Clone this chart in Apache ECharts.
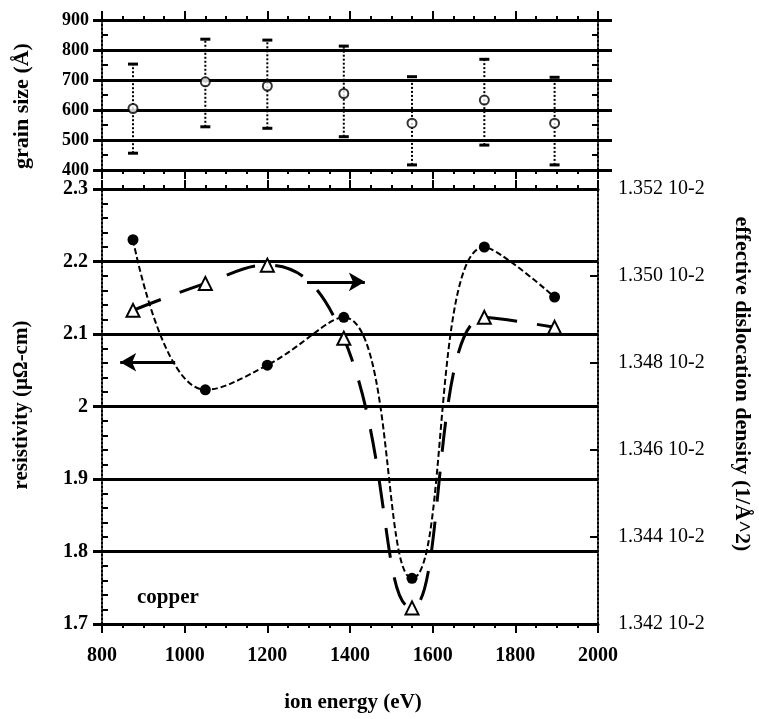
<!DOCTYPE html>
<html>
<head>
<meta charset="utf-8">
<script src="https://cdn.jsdelivr.net/npm/echarts@6/dist/echarts.min.js"></script>
<style>
html,body{margin:0;padding:0;background:#fff;}
#chart{width:759px;height:719px;}
</style>
</head>
<body>
<div id="chart"></div>
<script>
// ---- data ----
const energy = [875, 1050, 1200, 1385, 1550, 1725, 1895];           // ion energy (eV)
const grainSize = [605, 694, 680, 655, 556, 633, 556];              // grain size centre (Å)
const grainHigh = [753, 836, 833, 813, 711, 769, 709];              // upper error bar
const grainLow = [456, 544, 539, 511, 417, 483, 417];               // lower error bar
const resistivity = [2.23, 2.023, 2.057, 2.123, 1.763, 2.22, 2.151]; // µΩ-cm
const dislocation = [1.34921, 1.34983, 1.35025, 1.34857, 1.34237, 1.34905, 1.34882]; // 10^-2 1/Å^2
const grainTicks = [400, 900, 100];
const resTicks = [1.7, 2.3, 0.1];
const disTicks = [1.342, 1.352, 0.002];
const energyTicks = [800, 2000, 200];
const leftArrow = [[977, 2.061], [844, 2.061]];
const rightArrow = [[1296, 2.172], [1436, 2.172]];

const FONT = "'Liberation Serif', 'DejaVu Serif', serif";
const chart = echarts.init(document.getElementById('chart'), null, {renderer: 'canvas'});

function xAx(grid, pos, labels) {
  return {
    type: 'value', gridIndex: grid, position: pos,
    min: energyTicks[0], max: energyTicks[1], interval: energyTicks[2],
    axisLine: {show: true, lineStyle: {color: '#000', width: 3}},
    axisTick: {show: true, inside: false, length: 9, lineStyle: {color: '#000', width: 2}},
    minorTick: {show: true, splitNumber: 4, length: 4, lineStyle: {color: '#000', width: 2}},
    axisLabel: {show: labels, color: '#000', fontFamily: FONT, fontWeight: 'bold', fontSize: 20, margin: 22,
      formatter: v => String(v)},
    splitLine: {show: false}
  };
}

const dottedAxis = {show: true, lineStyle: {color: '#000', width: 2, type: 'dotted'}};

// extra tick-only axes that make the grid lines stick out past the axis lines
function stubAxis(grid, pos, ticks, len) {
  return {
    type: 'value', gridIndex: grid, position: pos, offset: 0,
    min: ticks[0], max: ticks[1], interval: ticks[2],
    axisLine: {show: false},
    axisTick: {show: true, inside: false, length: len, lineStyle: {color: '#000', width: 3}},
    axisLabel: {show: false},
    splitLine: {show: false}
  };
}

const option = {
  backgroundColor: '#fff',
  animation: false,
  grid: [
    {left: 102, right: 161, top: 20, height: 150},
    {left: 102, right: 161, top: 189, height: 435}
  ],
  xAxis: [
    xAx(0, 'bottom', false),
    xAx(0, 'top', false),
    xAx(1, 'bottom', true),
    xAx(1, 'top', false)
  ],
  yAxis: [
    {
      type: 'value', gridIndex: 0, position: 'left',
      min: grainTicks[0], max: grainTicks[1], interval: grainTicks[2],
      axisLine: dottedAxis,
      axisTick: {show: true, inside: true, length: 6, lineStyle: {color: '#000', width: 2}},
      minorTick: {show: true, splitNumber: 2, length: 6, lineStyle: {color: '#000', width: 2}},
      axisLabel: {color: '#000', fontFamily: FONT, fontWeight: 'bold', fontSize: 18, margin: 13},
      splitLine: {show: true, lineStyle: {color: '#000', width: 3}}
    },
    {
      type: 'value', gridIndex: 0, position: 'right',
      min: grainTicks[0], max: grainTicks[1], interval: 50,
      axisLine: dottedAxis,
      axisTick: {show: true, inside: true, length: 6, lineStyle: {color: '#000', width: 2}},
      axisLabel: {show: false},
      splitLine: {show: false}
    },
    {
      type: 'value', gridIndex: 1, position: 'left',
      min: resTicks[0], max: resTicks[1], interval: resTicks[2],
      axisLine: dottedAxis,
      axisTick: {show: true, inside: true, length: 6, lineStyle: {color: '#000', width: 2}},
      minorTick: {show: true, splitNumber: 5, length: 6, lineStyle: {color: '#000', width: 2}},
      axisLabel: {color: '#000', fontFamily: FONT, fontWeight: 'bold', fontSize: 20, margin: 14,
        formatter: v => String(Math.round(v * 10) / 10)},
      splitLine: {show: true, lineStyle: {color: '#000', width: 3}}
    },
    {
      type: 'value', gridIndex: 1, position: 'right',
      min: disTicks[0], max: disTicks[1], interval: disTicks[2],
      axisLine: dottedAxis,
      axisTick: {show: true, inside: true, length: 8, lineStyle: {color: '#000', width: 2}},
      axisLabel: {color: '#000', fontFamily: FONT, fontSize: 20, margin: 20,
        formatter: v => v.toFixed(3) + ' 10-2'},
      splitLine: {show: false}
    },
    stubAxis(0, 'left', grainTicks, 9),
    stubAxis(0, 'right', grainTicks, 14),
    stubAxis(1, 'left', resTicks, 9)
  ],
  series: [
    {
      name: 'grain size range', type: 'custom', xAxisIndex: 0, yAxisIndex: 0,
      data: energy.map((e, i) => [e, grainLow[i], grainHigh[i]]),
      renderItem: function (params, api) {
        const lo = api.coord([api.value(0), api.value(1)]);
        const hi = api.coord([api.value(0), api.value(2)]);
        const w = 5;
        return {
          type: 'group',
          children: [
            {type: 'line', shape: {x1: lo[0], y1: lo[1], x2: hi[0], y2: hi[1]},
             style: {stroke: '#000', lineWidth: 2, lineDash: [2, 2]}},
            {type: 'line', shape: {x1: lo[0] - w, y1: lo[1], x2: lo[0] + w, y2: lo[1]},
             style: {stroke: '#000', lineWidth: 3}},
            {type: 'line', shape: {x1: hi[0] - w, y1: hi[1], x2: hi[0] + w, y2: hi[1]},
             style: {stroke: '#000', lineWidth: 3}}
          ]
        };
      }
    },
    {
      name: 'grain size', type: 'scatter', xAxisIndex: 0, yAxisIndex: 0,
      data: energy.map((e, i) => [e, grainSize[i]]),
      symbol: 'circle', symbolSize: 9,
      itemStyle: {color: '#fff', borderColor: '#000', borderWidth: 2}
    },
    {
      name: 'resistivity', type: 'line', xAxisIndex: 2, yAxisIndex: 2,
      data: energy.map((e, i) => [e, resistivity[i]]),
      smooth: 0.45,
      symbol: 'circle', symbolSize: 11,
      itemStyle: {color: '#000'},
      lineStyle: {color: '#000', width: 2, type: [6, 3]},
      z: 3,
      markLine: {
        silent: true, symbol: ['none', 'arrow'], symbolSize: [14, 16],
        label: {show: false},
        lineStyle: {color: '#000', width: 3, type: 'solid'},
        data: [
          [{coord: leftArrow[0]}, {coord: leftArrow[1]}],
          [{coord: rightArrow[0]}, {coord: rightArrow[1]}]
        ]
      }
    },
    {
      name: 'dislocation density', type: 'line', xAxisIndex: 2, yAxisIndex: 3,
      data: energy.map((e, i) => [e, dislocation[i]]),
      smooth: 0.45,
      symbol: 'triangle', symbolSize: 13,
      itemStyle: {color: '#fff', borderColor: '#000', borderWidth: 2},
      lineStyle: {color: '#000', width: 3, type: [30, 20]},
      z: 4
    }
  ],
  graphic: [
    {type: 'text', x: 22, y: 106, rotation: Math.PI / 2,
     style: {text: 'grain size (Å)', font: "bold 22px 'Liberation Serif'", fill: '#000', align: 'center', verticalAlign: 'middle'}},
    {type: 'text', x: 22, y: 405, rotation: Math.PI / 2,
     style: {text: 'resistivity (μΩ-cm)', font: "bold 21px 'Liberation Serif'", fill: '#000', align: 'center', verticalAlign: 'middle'}},
    {type: 'text', x: 742, y: 384, rotation: -Math.PI / 2,
     style: {text: 'effective dislocation density (1/Å^2)', font: "bold 22px 'Liberation Serif'", fill: '#000', align: 'center', verticalAlign: 'middle'}},
    {type: 'text', x: 353, y: 703,
     style: {text: 'ion energy (eV)', font: "bold 21px 'Liberation Serif'", fill: '#000', align: 'center', verticalAlign: 'middle'}},
    {type: 'text', x: 137, y: 598,
     style: {text: 'copper', font: "bold 21px 'Liberation Serif'", fill: '#000', align: 'left', verticalAlign: 'middle'}}
  ]
};
chart.setOption(option);
</script>
</body>
</html>
